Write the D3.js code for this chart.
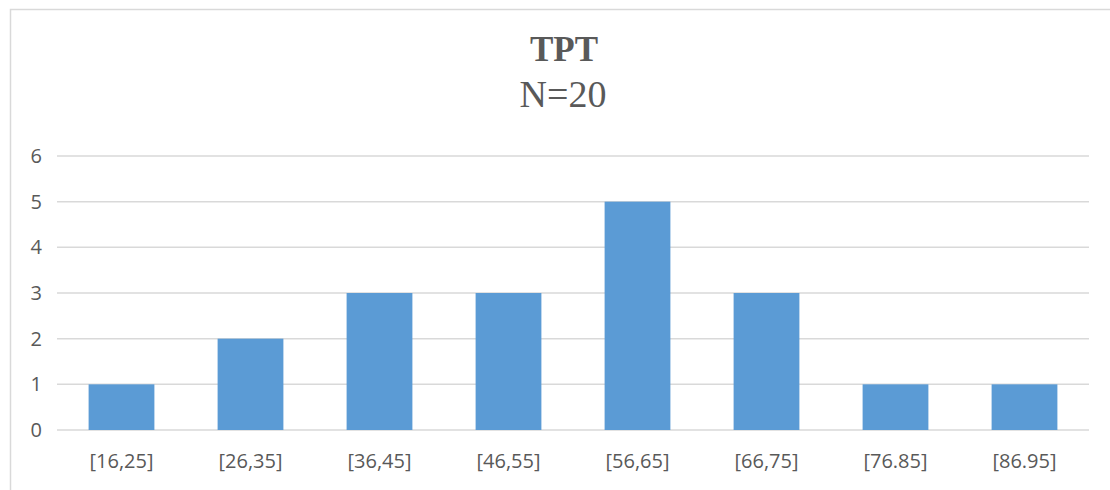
<!DOCTYPE html>
<html>
<head>
<meta charset="utf-8">
<script src="https://cdn.jsdelivr.net/npm/d3@7"></script>
<style>
  body { margin: 0; background: #fff; }
</style>
</head>
<body>
<script>
  // chart data
  const categories = ["[16,25]", "[26,35]", "[36,45]", "[46,55]", "[56,65]", "[66,75]", "[76.85]", "[86.95]"];
  const counts = [1, 2, 3, 3, 5, 3, 1, 1];
  const yTicks = [0, 1, 2, 3, 4, 5, 6];
  const title = "TPT";
  const subtitle = "N=20";

  const W = 1110, H = 490;
  const margin = { top: 156, right: 21, bottom: 60, left: 57 },
    width = W - margin.left - margin.right,
    height = H - margin.top - margin.bottom;

  const root = d3.select("body").append("svg")
    .attr("width", W)
    .attr("height", H);

  // chart area frame (only top and left edges visible)
  root.append("path")
    .attr("d", `M10.5,${H} V9.5 H${W}`)
    .attr("fill", "none")
    .attr("stroke", "#d9d9d9")
    .attr("stroke-width", 1.5);

  // titles
  root.append("text")
    .attr("x", 564)
    .attr("y", 61)
    .attr("text-anchor", "middle")
    .style("font", "bold 35px 'Liberation Serif'")
    .attr("fill", "#595959")
    .text(title);

  root.append("text")
    .attr("x", 563)
    .attr("y", 107)
    .attr("text-anchor", "middle")
    .style("font", "38px 'Liberation Serif'")
    .attr("fill", "#595959")
    .text(subtitle);

  const svg = root.append("g")
    .attr("transform", `translate(${margin.left}, ${margin.top})`);

  const x = d3.scaleBand().domain(categories).range([0, width]).paddingInner(0.49).paddingOuter(0.245);
  const y = d3.scaleLinear().domain([0, 6]).range([height, 0]);

  // gridlines
  svg.append("g")
    .selectAll("line")
    .data(yTicks)
    .join("line")
    .attr("x1", 0)
    .attr("x2", width)
    .attr("y1", (d) => y(d))
    .attr("y2", (d) => y(d))
    .attr("stroke", "#d9d9d9")
    .attr("stroke-width", 1.5);

  // y labels
  svg.append("g")
    .selectAll("text")
    .data(yTicks)
    .join("text")
    .attr("x", -15)
    .attr("y", (d) => y(d))
    .attr("dy", "0.35em")
    .attr("text-anchor", "end")
    .style("font", "20px 'Open Sans'")
    .attr("fill", "#595959")
    .text((d) => d);

  // bars
  svg.append("g")
    .selectAll("rect")
    .data(counts)
    .join("rect")
    .attr("x", (d, i) => x(categories[i]))
    .attr("y", (d) => y(d))
    .attr("width", x.bandwidth())
    .attr("height", (d) => y(0) - y(d))
    .attr("fill", "#5b9bd5");

  // x labels
  svg.append("g")
    .selectAll("text")
    .data(categories)
    .join("text")
    .attr("x", (d) => x(d) + x.bandwidth() / 2)
    .attr("y", height + 38)
    .attr("text-anchor", "middle")
    .style("font", "20px 'Open Sans'")
    .attr("fill", "#595959")
    .text((d) => d);
</script>
</body>
</html>
